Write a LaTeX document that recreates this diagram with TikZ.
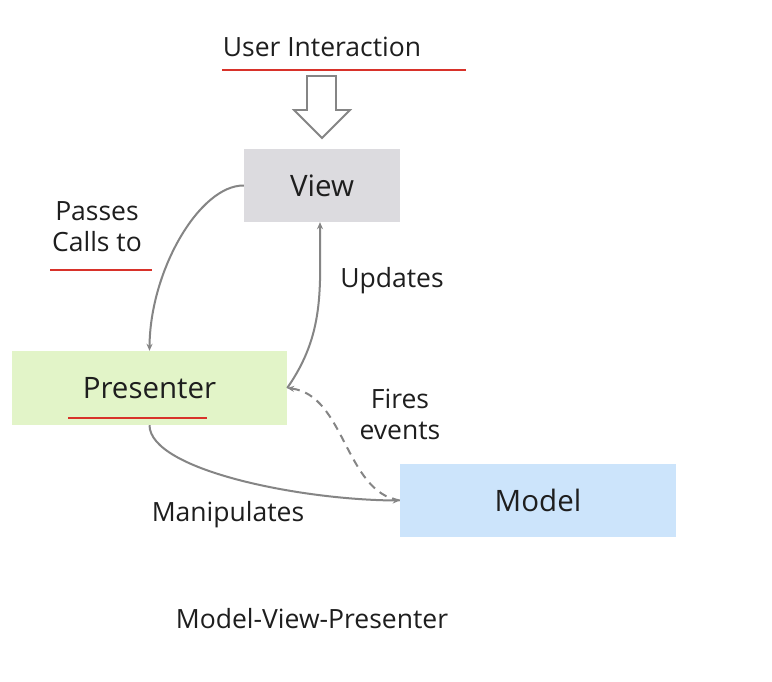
\documentclass[tikz,border=0pt]{standalone}
\usepackage{fontspec}
\setmainfont{Open Sans}
\usetikzlibrary{arrows.meta}
\definecolor{txt}{HTML}{1E1E1E}
\definecolor{viewfill}{HTML}{DCDBDF}
\definecolor{presfill}{HTML}{E2F4C8}
\definecolor{modelfill}{HTML}{CCE4FB}
\definecolor{redline}{HTML}{D8322A}
\definecolor{conngray}{HTML}{858585}
\begin{document}
\begin{tikzpicture}[x=1pt,y=-1pt,
  box/.style={draw=none,inner sep=0pt,text=txt,font=\fontsize{29.5}{32}\selectfont},
  lbl/.style={inner sep=0pt,text=txt,font=\fontsize{26.5}{31}\selectfont,align=center},
  uline/.style={draw=redline,line width=2.8pt},
  conn/.style={draw=conngray,line width=2pt,-{Stealth[length=7pt,width=6pt]}},
  dashconn/.style={conn,dash pattern=on 8pt off 6pt}]
\useasboundingbox[fill=white] (0,0) rectangle (772,682);
% boxes
\node[box,fill=viewfill,minimum width=156pt,minimum height=73pt] (view) at (322,185.5) {View};
\node[box,fill=presfill,minimum width=275pt,minimum height=74pt] (presenter) at (149.5,388) {Presenter};
\node[box,fill=modelfill,minimum width=276pt,minimum height=73pt] (model) at (538,500.5) {Model};
% labels
\node[lbl] (ui) at (322,47) {User Interaction};
\node[lbl] (passes) at (97,227) {Passes\\Calls to};
\node[lbl] (updates) at (392,281) {Updates};
\node[lbl] (fires) at (400,414) {Fires\\events};
\node[lbl] (manip) at (228,515) {Manipulates};
\node[lbl] (title) at (312,619) {Model-View-Presenter};
% red underlines
\draw[uline] (222,70) -- (466,70);
\draw[uline] (50,270) -- (152,270);
\draw[uline] (68,418) -- (207,418);
% hollow arrow
\draw[draw=conngray,fill=white,line width=1.8pt,line join=miter]
  (307,76) -- (336,76) -- (336,110) -- (350,110) -- (322,138) -- (294,110) -- (307,110) -- cycle;
% connectors
\draw[conn] (view.west) .. controls (200,185) and (150,270) .. (presenter.north);
\draw[conn] (presenter.east) to[out=55,in=-90] ([xshift=-2pt]view.south);
\draw[dashconn] (model.west) .. controls (345,492) and (345,395) .. (presenter.east);
\draw[conn] (presenter.south) .. controls (150,470) and (300,500) .. (model.west);
\end{tikzpicture}
\end{document}
